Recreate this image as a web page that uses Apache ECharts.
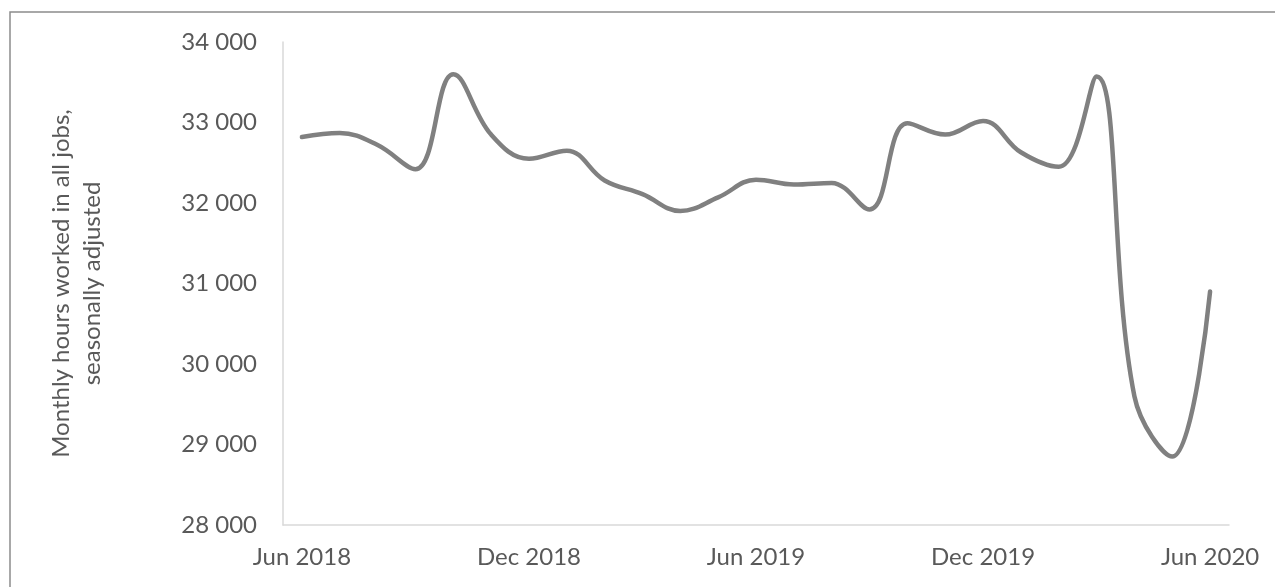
<!DOCTYPE html>
<html>
<head>
<meta charset="utf-8">
<title>Monthly hours worked</title>
<script src="https://cdn.jsdelivr.net/npm/echarts@6/dist/echarts.min.js"></script>
<style>
    html, body { margin: 0; padding: 0; background: #fff; }
    #chart { width: 1275px; height: 587px; }
</style>
</head>
<body>
<div id="chart"></div>
<script>
// months, Jun 2018 - Jun 2020
var months = [
    'Jun 2018', 'Jul 2018', 'Aug 2018', 'Sep 2018', 'Oct 2018', 'Nov 2018',
    'Dec 2018', 'Jan 2019', 'Feb 2019', 'Mar 2019', 'Apr 2019', 'May 2019',
    'Jun 2019', 'Jul 2019', 'Aug 2019', 'Sep 2019', 'Oct 2019', 'Nov 2019',
    'Dec 2019', 'Jan 2020', 'Feb 2020', 'Mar 2020', 'Apr 2020', 'May 2020',
    'Jun 2020'
];
// monthly hours worked in all jobs, seasonally adjusted
var hours = [
    32820, 32870, 32720, 32420, 33600, 32850,
    32550, 32650, 32280, 32110, 31900, 32070,
    32290, 32230, 32250, 31920, 32990, 32850,
    33020, 32630, 32450, 33570, 29600, 28850,
    30900
];
var yTicks = [28000, 29000, 30000, 31000, 32000, 33000, 34000];

var fontFamily = 'Lato, "Open Sans", sans-serif';
var textColor = '#595959';

var lineChart = function () {
    var box = document.getElementById('chart');
    var myChart = echarts.init(box, null, { renderer: 'canvas' });

    var options = {
        animation: false,
        textStyle: { fontFamily: fontFamily },
        graphic: [
            {
                type: 'rect',
                shape: { x: 10, y: 12, width: 1300, height: 620 },
                style: { fill: 'none', stroke: '#8c8c8c', lineWidth: 1.5 },
                silent: true
            }
        ],
        grid: {
            left: 283,
            right: 46,
            top: 42,
            bottom: 62
        },
        xAxis: {
            type: 'category',
            data: months,
            boundaryGap: true,
            axisLine: { lineStyle: { color: '#d9d9d9', width: 1.5 } },
            axisTick: {
                interval: 5,
                length: 8,
                lineStyle: { color: '#d9d9d9', width: 1.5 }
            },
            axisLabel: {
                interval: 5,
                margin: 20,
                color: textColor,
                fontSize: 24,
                fontFamily: fontFamily
            },
            splitLine: { show: false }
        },
        yAxis: {
            type: 'value',
            min: yTicks[0],
            max: yTicks[yTicks.length - 1],
            interval: 1000,
            name: 'Monthly hours worked in all jobs,\nseasonally adjusted',
            nameLocation: 'middle',
            nameGap: 175,
            nameTextStyle: {
                color: textColor,
                fontSize: 24,
                lineHeight: 31,
                fontFamily: fontFamily
            },
            axisLine: { show: true, lineStyle: { color: '#d9d9d9', width: 1.5 } },
            axisTick: { show: false },
            axisLabel: {
                margin: 26,
                color: textColor,
                fontSize: 24,
                fontFamily: fontFamily,
                formatter: function (v) {
                    return String(v).replace(/\B(?=(\d{3})+(?!\d))/g, ' ');
                }
            },
            splitLine: { show: false }
        },
        series: [
            {
                name: 'Hours',
                type: 'line',
                data: hours,
                smooth: 0.4,
                showSymbol: false,
                symbol: 'none',
                lineStyle: { color: '#808080', width: 4.5, cap: 'round' }
            }
        ]
    };

    myChart.setOption(options);
};

lineChart();
</script>
</body>
</html>
